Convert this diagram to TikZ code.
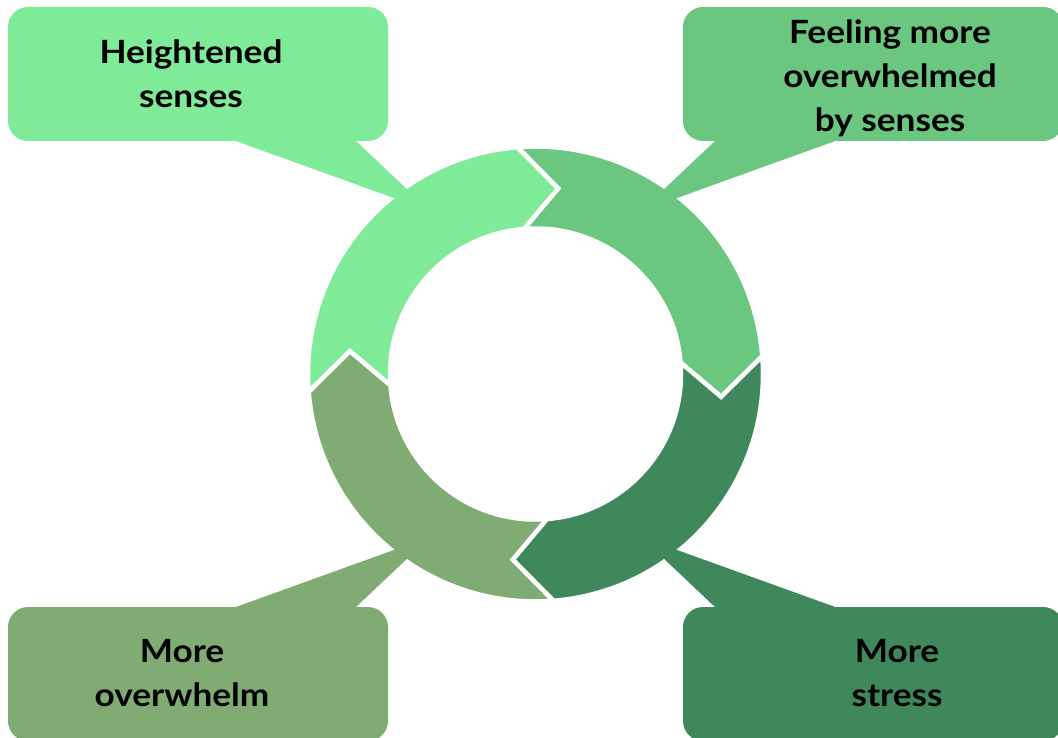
\documentclass[tikz,border=0pt]{standalone}
\usepackage{fontspec}
\setmainfont{Lato}[BoldFont={Lato Bold}, BoldFeatures={FakeStretch=1.1}]
\definecolor{gLight}{HTML}{7FEA98}
\definecolor{gMid}{HTML}{6BC680}
\definecolor{gDark}{HTML}{3E885B}
\definecolor{gSage}{HTML}{80AC73}
\tikzset{
  seg/.style={fill=#1, draw=white, line width=4.5pt, line join=miter},
  bubble/.style={fill=#1, draw=none},
  label/.style={font=\fontsize{32}{44}\selectfont\bfseries, align=center, text=black, inner sep=0pt}
}
% one ring segment: start angle, end angle, colour (angles grow clockwise on the page)
\newcommand{\ringseg}[3]{%
  \fill[seg=#3] (#1:\Rout) arc[start angle=#1, end angle=#2, radius=\Rout]
    -- ({#2+\tipang}:\Rmid) -- (#2:\Rin)
    arc[start angle=#2, end angle=#1, radius=\Rin]
    -- ({#1+\tipang}:\Rmid) -- cycle;}
\begin{document}
\begin{tikzpicture}[x=1pt, y=-1pt]
  \useasboundingbox (0,0) rectangle (1058,738);
  \clip (0,0) rectangle (1058,738);
  \def\Rout{227.5}\def\Rin{145.5}\def\Rmid{187}\def\tipang{11.5}

  % speech bubbles
  \fill[bubble=gLight, rounded corners=20pt] (8,7) rectangle (388,141);
  \fill[bubble=gMid, rounded corners=20pt] (683,7) rectangle (1063,141);
  \fill[bubble=gSage, rounded corners=20pt] (8,607) rectangle (388,741);
  \fill[bubble=gDark, rounded corners=20pt] (683,607) rectangle (1063,741);

  % cycle ring
  \begin{scope}[shift={(535.5,374)}]
    \ringseg{175.5}{265.5}{gLight}
    \ringseg{265.5}{355.5}{gMid}
    \ringseg{355.5}{445.5}{gDark}
    \ringseg{85.5}{175.5}{gSage}
  \end{scope}

  % bubble pointers reaching into the ring
  \coordinate (tTL) at (430,211);
  \coordinate (tTR) at (641,211);
  \coordinate (tBL) at (430,537);
  \coordinate (tBR) at (641,537);
  \fill[bubble=gLight] (233,140) -- (355,140) -- (tTL) -- cycle;
  \fill[bubble=gMid] (838,140) -- (716,140) -- (tTR) -- cycle;
  \fill[bubble=gSage] (233,608) -- (355,608) -- (tBL) -- cycle;
  \fill[bubble=gDark] (838,608) -- (716,608) -- (tBR) -- cycle;

  % texts
  \node[label] (lTL) at (191,73.5) {Heightened\\senses};
  \node[label] (lTR) at (890,78.5) {Feeling more\\overwhelmed\\by senses};
  \node[label] (lBL) at (182,673) {More\\overwhelm};
  \node[label] (lBR) at (897,673) {More\\stress};
\end{tikzpicture}
\end{document}
